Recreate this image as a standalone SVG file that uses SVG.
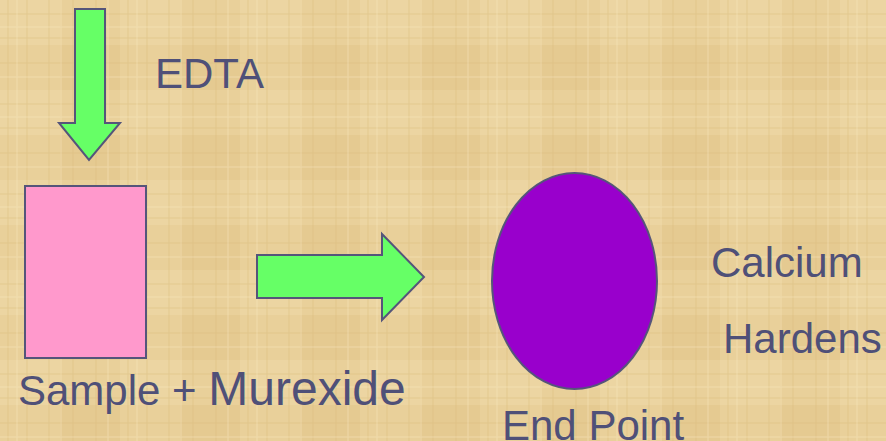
<svg xmlns="http://www.w3.org/2000/svg" width="886" height="441" viewBox="0 0 886 441">
<defs>
<style>
.arrow{fill:#66ff66;stroke:#55557a;stroke-width:2;stroke-linejoin:miter}
.lbl{font-family:"Liberation Sans",Arial,sans-serif;fill:#4f5078;font-size:42px}
</style>
<pattern id="papyrus" width="120" height="90" patternUnits="userSpaceOnUse">
<rect width="120" height="90" fill="#e9d09a"/>
<rect x="0" y="0" width="60" height="45" fill="#efd9a6" opacity="0.6"/>
<rect x="60" y="45" width="60" height="45" fill="#e2c488" opacity="0.5"/>
<g stroke="#d9bb7c" stroke-width="1" opacity="0.5">
<line x1="8" y1="0" x2="8" y2="90"/><line x1="27" y1="0" x2="27" y2="90"/><line x1="49" y1="0" x2="49" y2="90"/><line x1="73" y1="0" x2="73" y2="90"/><line x1="96" y1="0" x2="96" y2="90"/>
<line x1="0" y1="14" x2="120" y2="14"/><line x1="0" y1="38" x2="120" y2="38"/><line x1="0" y1="63" x2="120" y2="63"/>
</g>
<g stroke="#f6e6be" stroke-width="1" opacity="0.5">
<line x1="17" y1="0" x2="17" y2="90"/><line x1="61" y1="0" x2="61" y2="90"/><line x1="108" y1="0" x2="108" y2="90"/>
<line x1="0" y1="27" x2="120" y2="27"/><line x1="0" y1="77" x2="120" y2="77"/>
</g>
</pattern>
</defs>
<rect width="886" height="441" fill="url(#papyrus)"/>
<g id="connectors">
<polygon id="edta-arrow" class="arrow" points="75,9 105,9 105,123 120,123 89,160 59,123 75,123"/>
<polygon id="main-arrow" class="arrow" points="257,255 382,255 382,234 424,277 382,320 382,298 257,298"/>
</g>
<g id="sample">
<rect x="25" y="186" width="121" height="172" fill="#ff99cc" stroke="#55557a" stroke-width="2"/>
<text class="lbl" x="18" y="405">Sample + <tspan font-size="48">Murexide</tspan></text>
</g>
<g id="endpoint">
<ellipse cx="574.5" cy="281" rx="82.5" ry="108" fill="#9900cc" stroke="#55557a" stroke-width="2"/>
<text class="lbl" x="502" y="440">End Point</text>
</g>
<g id="labels">
<text class="lbl" x="155" y="88">EDTA</text>
<text class="lbl" x="711" y="277">Calcium</text>
<text class="lbl" x="723" y="353">Hardens</text>
</g>
</svg>
